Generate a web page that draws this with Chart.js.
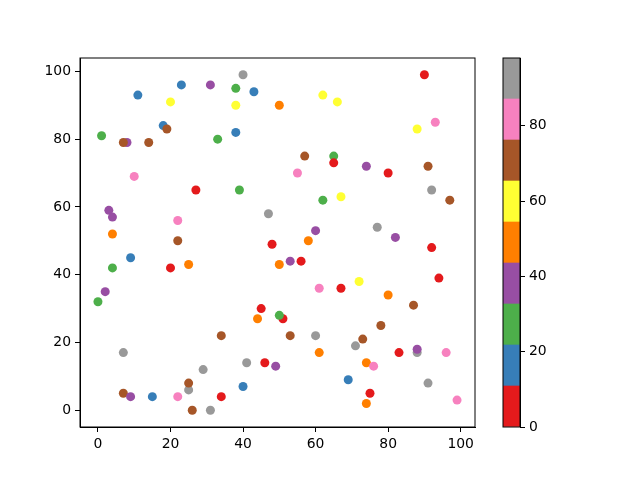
<!DOCTYPE html>
<html>
<head>
    <title>Scatter with colorbar</title>
    <script src="https://cdn.jsdelivr.net/npm/chart.js"></script>
    <style>
        body { margin: 0; background: white; }
        #wrap { position: relative; width: 640px; height: 480px; }
        canvas { position: absolute; left: 0; top: 0; }
    </style>
</head>
<body>
<div id="wrap">
    <canvas id="scatterChart" width="640" height="480"></canvas>
    <canvas id="barChart" width="640" height="480"></canvas>
</div>
<script>
    // point data: x, y and the colour value
    let xs = [40, 23, 31, 38, 43, 50, 11, 20, 38, 18, 19, 1, 38, 8, 7, 14, 33, 10, 27, 39,
              3, 4, 22, 47, 4, 22, 48, 90, 62, 66, 93, 88, 57, 65, 65, 74, 80, 91, 55, 92,
              97, 62, 67, 60, 58, 77, 82, 92, 9, 4, 20, 25, 50, 2, 0, 45, 44, 51, 50, 34,
              7, 41, 46, 49, 29, 25, 25, 40, 7, 9, 15, 22, 34, 26, 31, 53, 56, 94, 72, 61,
              67, 80, 87, 53, 60, 78, 73, 71, 61, 83, 88, 88, 96, 74, 76, 69, 91, 75, 74, 99];
    let ys = [99, 96, 96, 95, 94, 90, 93, 91, 90, 84, 83, 81, 82, 79, 79, 79, 80, 69, 65, 65,
              59, 57, 56, 58, 52, 50, 49, 99, 93, 91, 85, 83, 75, 75, 73, 72, 70, 72, 70, 65,
              62, 62, 63, 53, 50, 54, 51, 48, 45, 42, 42, 43, 43, 35, 32, 30, 27, 27, 28, 22,
              17, 14, 14, 13, 12, 6, 8, 7, 5, 4, 4, 4, 4, 0, 0, 44, 44, 39, 38, 36,
              36, 34, 31, 22, 22, 25, 21, 19, 17, 17, 17, 18, 17, 14, 13, 9, 8, 5, 2, 3];
    let cs = [92, 16, 38, 27, 16, 49, 16, 60, 60, 16, 70, 27, 16, 38, 70, 70, 27, 81, 5, 27,
              38, 38, 81, 92, 49, 70, 5, 5, 60, 60, 81, 60, 70, 27, 5, 38, 5, 70, 81, 92,
              70, 27, 60, 38, 49, 92, 38, 5, 16, 27, 5, 49, 49, 38, 27, 5, 49, 5, 27, 70,
              92, 92, 5, 38, 92, 92, 70, 16, 70, 38, 16, 81, 5, 70, 92, 38, 5, 5, 60, 81,
              5, 49, 70, 70, 92, 70, 70, 92, 49, 5, 92, 38, 81, 49, 81, 16, 92, 5, 49, 81];

    let xTicks = [0, 20, 40, 60, 80, 100];
    let yTicks = [0, 20, 40, 60, 80, 100];
    let cbTicks = [0, 20, 40, 60, 80];
    let cMax = 98;

    let set1 = ['#e41a1c', '#377eb8', '#4daf4a', '#984ea3', '#ff7f00',
                '#ffff33', '#a65628', '#f781bf', '#999999'];

    function colorOf(c) {
        let i = Math.floor(c / (cMax / set1.length));
        return set1[Math.min(set1.length - 1, i)];
    }

    Chart.defaults.font.family = 'DejaVu Sans';
    Chart.defaults.font.size = 13.9;
    Chart.defaults.color = '#000';

    let frame = {
        id: 'frame',
        afterDraw(chart) {
            let a = chart.chartArea, ctx = chart.ctx;
            ctx.save();
            ctx.strokeStyle = '#000';
            ctx.lineWidth = 1;
            ctx.strokeRect(a.left, a.top, a.right - a.left, a.bottom - a.top);
            ctx.restore();
        }
    };

    function axisStyle(ticks) {
        return {
            grid: { drawOnChartArea: false, drawTicks: true, tickLength: 5, color: '#000' },
            border: { display: true, color: '#000' },
            ticks: { padding: 4, maxRotation: 0 },
            afterBuildTicks: s => { s.ticks = ticks.map(v => ({ value: v })); }
        };
    }

    let points = xs.map((x, i) => ({ x: x, y: ys[i] }));

    let xAxis = axisStyle(xTicks);
    xAxis.min = -4.95; xAxis.max = 103.95;
    xAxis.afterFit = s => { s.height = 53; };
    let yAxis = axisStyle(yTicks);
    yAxis.min = -4.95; yAxis.max = 103.95;
    yAxis.afterFit = s => { s.width = 80; };

    new Chart(document.getElementById('scatterChart'), {
        type: 'scatter',
        data: {
            datasets: [{
                data: points,
                pointRadius: 4.5,
                pointHoverRadius: 4.5,
                pointBorderWidth: 0,
                pointBackgroundColor: cs.map(colorOf),
                pointBorderColor: cs.map(colorOf)
            }]
        },
        options: {
            responsive: false,
            animation: false,
            layout: { padding: { left: 0, top: 58, right: 165, bottom: 0 } },
            plugins: { legend: { display: false }, tooltip: { enabled: false } },
            scales: { x: xAxis, y: yAxis }
        },
        plugins: [frame]
    });

    // colorbar: one stacked column, one band per colour
    let cbAxis = axisStyle(cbTicks);
    cbAxis.position = 'right';
    cbAxis.stacked = true;
    cbAxis.min = 0; cbAxis.max = cMax;
    cbAxis.afterFit = s => { s.width = 120; };

    new Chart(document.getElementById('barChart'), {
        type: 'bar',
        data: {
            labels: [''],
            datasets: set1.map(col => ({
                data: [cMax / set1.length],
                backgroundColor: col,
                borderWidth: 0,
                barPercentage: 1,
                categoryPercentage: 1
            }))
        },
        options: {
            responsive: false,
            animation: false,
            layout: { padding: { left: 503, top: 58, right: 0, bottom: 53 } },
            plugins: { legend: { display: false }, tooltip: { enabled: false } },
            scales: {
                x: { display: false, stacked: true },
                y: cbAxis
            }
        },
        plugins: [frame]
    });
</script>
</body>
</html>
